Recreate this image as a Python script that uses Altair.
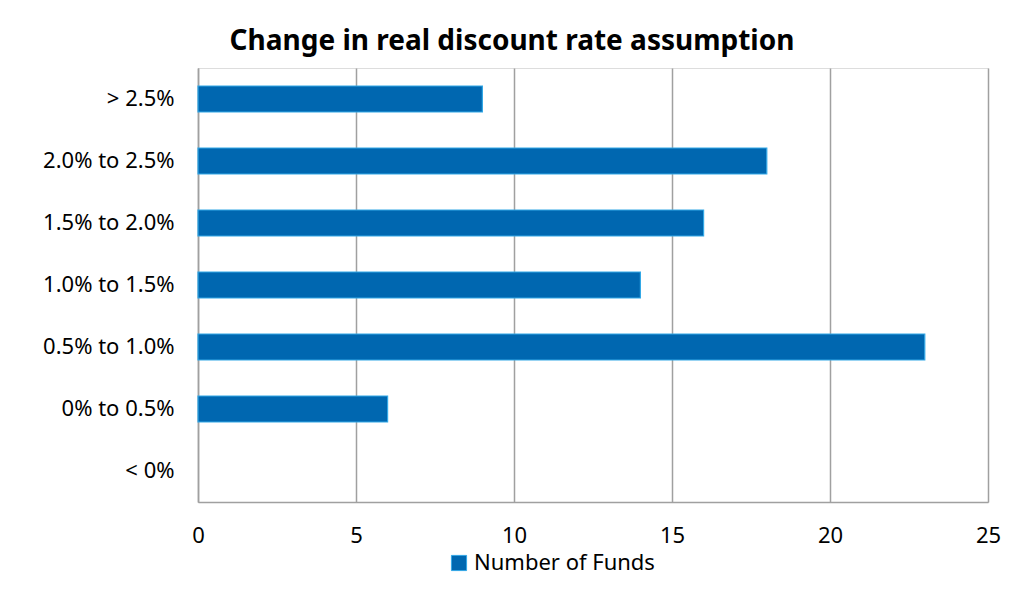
import altair as alt
import pandas as pd

categories = ["> 2.5%", "2.0% to 2.5%", "1.5% to 2.0%", "1.0% to 1.5%", "0.5% to 1.0%", "0% to 0.5%", "< 0%"]
values = [9, 18, 16, 14, 23, 6, 0]
series_name = "Number of Funds"
x_ticks = [0, 5, 10, 15, 20, 25]

df = pd.DataFrame({"category": categories, "value": values, "series": [series_name] * len(categories)})

FONT = "Noto Sans"
bar = alt.Chart(df).transform_filter(
    alt.datum.value > 0
).mark_bar(
    stroke="#33A8E6", strokeWidth=1.2
).encode(
    y=alt.Y("category:N", sort=categories, title=None,
            scale=alt.Scale(domain=categories, paddingInner=0.58, paddingOuter=0.29),
            axis=alt.Axis(labelFontSize=22, labelFont=FONT, labelColor="#000000",
                          labelPadding=24, labelLimit=300, ticks=False, domainColor="#A0A0A0",
                          domainWidth=1.5, grid=False)),
    x=alt.X("value:Q", title=None,
            scale=alt.Scale(domain=[0, 25], nice=False),
            axis=alt.Axis(values=x_ticks, labelFontSize=22, labelFont=FONT, labelColor="#000000",
                          labelPadding=23, labelFlush=False, labelAlign="center",
                          ticks=False, domainColor="#A0A0A0", domainWidth=1.5,
                          gridColor="#A0A0A0", gridWidth=1.5)),
    color=alt.Color("series:N", title=None,
                    scale=alt.Scale(range=["#0067B0"]),
                    legend=alt.Legend(orient="none", legendX=250, legendY=484,
                                      symbolType="square", symbolSize=230,
                                      symbolStrokeColor="#33A8E6", symbolStrokeWidth=1,
                                      labelFontSize=22, labelFont=FONT, labelColor="#000000",
                                      labelOffset=4, labelLimit=400)),
).properties(
    width=790, height=434,
    title=alt.TitleParams("Change in real discount rate assumption", fontSize=28, font=FONT,
                          fontWeight="bold", color="#000000", anchor="middle", dx=-81, offset=12),
    autosize=alt.AutoSizeParams(type="none"),
    padding={"left": 198, "top": 68, "right": 36, "bottom": 96},
).configure_view(fill="#FDFDFD", stroke="#EEEEEE").configure(background="#FFFFFF")

bar.save("out.html", embed_options={"renderer": "svg", "actions": False})
